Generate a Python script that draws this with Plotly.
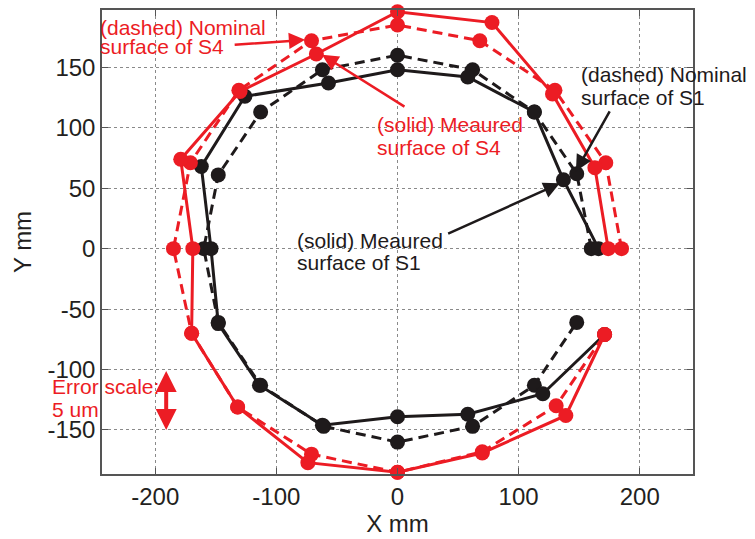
import plotly.graph_objects as go

# ---- data ----
nominal_s1_x = [160, 148, 113, 62, 0, -62, -113, -148, -160, -148, -113, -61, 0, 62, 113, 148]
nominal_s1_y = [0, 62, 113, 148, 160, 148, 113, 61, 0, -61, -113, -147, -160, -147, -113, -61]

measured_s1_x = [166, 137, 113, 58, 0, -57, -126, -162, -154, -148, -114, -62, 0, 58, 120, 171]
measured_s1_y = [0, 57, 113, 142, 148, 137, 126, 68, 0, -62, -113, -146, -139, -137, -120, -71]

nominal_s4_x = [185, 172, 130, 68, 0, -71, -131, -171, -185, -170, -132, -71, 0, 70, 131, 171]
nominal_s4_y = [0, 71, 131, 172, 185, 172, 131, 71, 0, -70, -131, -170, -185, -168, -130, -71]

measured_s4_x = [174, 163, 128, 78, 0, -67, -130, -179, -169, -170, -132, -74, 0, 70, 139, 171]
measured_s4_y = [0, 67, 128, 187, 196, 161, 130, 74, 0, -70, -131, -177, -185, -169, -138, -71]

x_ticks = [-200, -100, 0, 100, 200]
y_ticks = [-150, -100, -50, 0, 50, 100, 150]

RED = "#ec1c24"
BLACK = "#1e1a1b"
FONT = "Liberation Sans, Arial, sans-serif"

fig = go.Figure()

def add_series(x, y, color, dash):
    fig.add_trace(go.Scatter(
        x=x, y=y, mode="lines+markers",
        line=dict(color=color, width=3, dash=dash),
        marker=dict(color=color, size=15, symbol="circle", line=dict(width=0)),
        cliponaxis=False, showlegend=False, hoverinfo="skip",
    ))

add_series(nominal_s1_x, nominal_s1_y, BLACK, "10px,6px")
add_series(measured_s1_x, measured_s1_y, BLACK, "solid")
add_series(nominal_s4_x, nominal_s4_y, RED, "10px,6px")
add_series(measured_s4_x, measured_s4_y, RED, "solid")

def text(xp, yp, s, color):
    fig.add_annotation(x=xp, y=yp, xref="paper", yref="paper", text=s,
                       showarrow=False, xanchor="left", yanchor="middle",
                       font=dict(family=FONT, size=21, color=color))

def arrow(x, y, ax, ay, color, width=2.5, size=1.3, both=False):
    fig.add_annotation(x=x, y=y, ax=ax, ay=ay, xref="x", yref="y",
                       axref="x", ayref="y", text="", showarrow=True,
                       arrowhead=2, arrowsize=size, arrowwidth=width,
                       arrowcolor=color, standoff=0, startstandoff=0,
                       arrowside="end+start" if both else "end",
                       startarrowhead=2, startarrowsize=size)

text(-0.0068, 0.9629, "(dashed) Nominal", RED)
text(-0.0068, 0.9206, "surface of S4", RED)
arrow(-76.3, 172.7, -135.7, 168.6, RED)

text(0.4614, 0.7530, "(solid) Meaured", RED)
text(0.4614, 0.7040, "surface of S4", RED)
arrow(-62.3, 160.4, 7, 116.7, RED)

text(0.8066, 0.8600, "(dashed) Nominal", BLACK)
text(0.8066, 0.8120, "surface of S1", BLACK)
arrow(147.3, 64, 175.9, 114.8, BLACK)

text(0.3271, 0.5040, "(solid) Meaured", BLACK)
text(0.3271, 0.4560, "surface of S1", BLACK)
arrow(134, 54, 40.6, 11.9, BLACK)

text(-0.0885, 0.1890, "Error scale:", RED)
text(-0.0885, 0.1390, "5 um", RED)
arrow(-191, -150, -191, -100, RED, width=4, size=1.05, both=True)

axis_common = dict(
    showline=True, linecolor="#555555", linewidth=1.5, mirror="ticks",
    ticks="inside", ticklen=6, tickcolor="#555555", tickwidth=1,
    showgrid=True, gridcolor="#8a8a8a", griddash="dot", gridwidth=1,
    zeroline=False,
    tickfont=dict(family=FONT, size=24, color="#231f20"),
)

fig.update_layout(
    width=755, height=539,
    margin=dict(l=102, r=62, t=8, b=65),
    paper_bgcolor="white", plot_bgcolor="white",
    xaxis=dict(range=[-244, 244], tickvals=x_ticks,
               ticktext=[str(v) for v in x_ticks],
               title=dict(text="X mm", standoff=4,
                          font=dict(family=FONT, size=24, color="#231f20")),
               **axis_common),
    yaxis=dict(range=[-186.4, 197.4], tickvals=y_ticks,
               ticktext=[str(v) for v in y_ticks],
               ticklabelstandoff=0,
               title=dict(text="Y mm", standoff=9,
                          font=dict(family=FONT, size=24, color="#231f20")),
               **axis_common),
)

fig.write_html("out.html", config={"displayModeBar": False},
               post_script="document.body.style.margin='0';document.body.style.overflow='hidden';")
